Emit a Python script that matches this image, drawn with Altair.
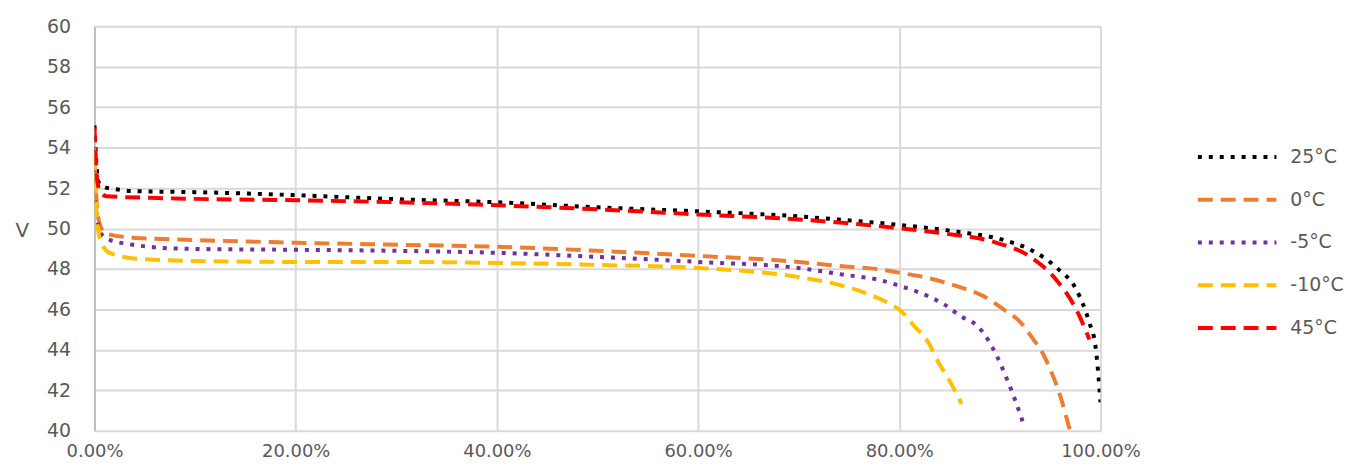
import altair as alt
import pandas as pd

series_names = ["25°C", "0°C", "-5°C", "-10°C", "45°C"]
series_colors = ["#000000", "#ED7D31", "#7030A0", "#FFC000", "#FF0000"]
series_dash = [[4, 7], [15, 8], [4, 7], [15, 8], [15, 8]]

# state of discharge (fraction) and voltage
x_25 = [0.0, 0.001, 0.003, 0.005, 0.01, 0.02, 0.04, 0.1, 0.2, 0.3, 0.4, 0.5, 0.6, 0.7, 0.746, 0.802, 0.858, 0.904, 0.931, 0.957, 0.976, 0.989, 0.995, 0.998, 1.0]
v_25 = [55.1, 54.0, 52.6, 52.2, 52.05, 51.95, 51.85, 51.8, 51.65, 51.45, 51.3, 51.05, 50.85, 50.6, 50.42, 50.17, 49.84, 49.43, 48.94, 48.04, 46.98, 45.34, 44.19, 42.72, 41.41]

x_0 = [0.0, 0.001, 0.003, 0.006, 0.012, 0.038, 0.09, 0.2, 0.3, 0.4, 0.5, 0.6, 0.7, 0.746, 0.779, 0.802, 0.829, 0.858, 0.884, 0.904, 0.921, 0.931, 0.944, 0.950, 0.960, 0.970]
v_0 = [54.0, 52.5, 50.8, 50.1, 49.75, 49.55, 49.45, 49.3, 49.2, 49.1, 48.9, 48.65, 48.35, 48.12, 47.99, 47.80, 47.55, 47.14, 46.65, 45.99, 45.34, 44.68, 43.70, 43.05, 41.73, 39.94]

x_m5 = [0.0, 0.001, 0.003, 0.006, 0.012, 0.038, 0.09, 0.2, 0.3, 0.4, 0.5, 0.6, 0.7, 0.746, 0.779, 0.802, 0.829, 0.845, 0.861, 0.878, 0.888, 0.897, 0.907, 0.916, 0.924]
v_m5 = [53.0, 51.6, 50.4, 49.8, 49.5, 49.2, 49.0, 48.95, 48.9, 48.8, 48.6, 48.35, 48.05, 47.71, 47.47, 47.14, 46.65, 46.24, 45.67, 45.17, 44.52, 43.70, 42.56, 41.41, 40.26]

x_m10 = [0.0, 0.001, 0.003, 0.006, 0.015, 0.044, 0.097, 0.2, 0.3, 0.4, 0.5, 0.6, 0.7, 0.746, 0.766, 0.789, 0.802, 0.815, 0.829, 0.839, 0.849, 0.862]
v_m10 = [53.6, 52.0, 50.2, 49.4, 48.8, 48.5, 48.4, 48.35, 48.35, 48.3, 48.2, 48.05, 47.6, 47.14, 46.82, 46.32, 45.91, 45.17, 44.36, 43.38, 42.56, 41.33]

x_45 = [0.0, 0.001, 0.003, 0.006, 0.012, 0.07, 0.2, 0.3, 0.4, 0.5, 0.6, 0.7, 0.801, 0.844, 0.893, 0.930, 0.956, 0.976, 0.989]
v_45 = [55.0, 53.8, 52.3, 51.8, 51.6, 51.5, 51.4, 51.3, 51.15, 50.95, 50.7, 50.45, 50.01, 49.76, 49.35, 48.61, 47.47, 45.99, 44.52]

x_ticks = [0.0, 0.2, 0.4, 0.6, 0.8, 1.0]
y_ticks = [40, 42, 44, 46, 48, 50, 52, 54, 56, 58, 60]

rows = []
for name, xs, vs in [("25°C", x_25, v_25), ("0°C", x_0, v_0), ("-5°C", x_m5, v_m5),
                     ("-10°C", x_m10, v_m10), ("45°C", x_45, v_45)]:
    for i, (a, b) in enumerate(zip(xs, vs)):
        rows.append({"series": name, "x": a, "v": b, "i": i})
df = pd.DataFrame(rows)

FONT = "DejaVu Sans"
TXT = "#595959"

chart = alt.Chart(df).mark_line(strokeWidth=4, interpolate="monotone", clip=True).encode(
    x=alt.X("x:Q", scale=alt.Scale(domain=[0, 1], nice=False),
            axis=alt.Axis(values=x_ticks, format=".2%", title=None, labelFontSize=18,
                          labelColor=TXT, labelFont=FONT, labelPadding=12, ticks=False,
                          domain=False, gridColor="#d9d9d9", gridWidth=2,
                          labelFlush=False)),
    y=alt.Y("v:Q", scale=alt.Scale(domain=[40, 60], nice=False, zero=False),
            axis=alt.Axis(values=y_ticks, title="V", titleAngle=0, titleFontSize=20,
                          titleFont=FONT, titleColor=TXT, titleFontWeight="normal",
                          titleX=-73, titleY=205, titleAlign="center", titleBaseline="middle",
                          labelFontSize=19, labelColor=TXT, labelFont=FONT, labelPadding=24,
                          ticks=False, domainColor="#bfbfbf", domainWidth=2,
                          gridColor="#d9d9d9", gridWidth=2)),
    color=alt.Color("series:N", scale=alt.Scale(domain=series_names, range=series_colors),
                    sort=series_names,
                    legend=alt.Legend(title=None, orient="none", legendX=1108, legendY=110,
                                      symbolType="stroke", symbolSize=6241, symbolStrokeWidth=4,
                                      labelFontSize=19, labelColor=TXT, labelFont=FONT,
                                      labelOffset=12, clipHeight=43, rowPadding=0, padding=0)),
    strokeDash=alt.StrokeDash("series:N", scale=alt.Scale(domain=series_names, range=series_dash),
                              sort=series_names, legend=None),
    detail="series:N",
    order="i:Q",
).properties(
    width=1012, height=407,
    padding={"left": 87, "top": 17, "right": 247, "bottom": 34},
    autosize="none",
).configure_view(stroke=None).configure(background="white")

chart.save("out.html", embed_options={"renderer": "svg", "actions": False})
